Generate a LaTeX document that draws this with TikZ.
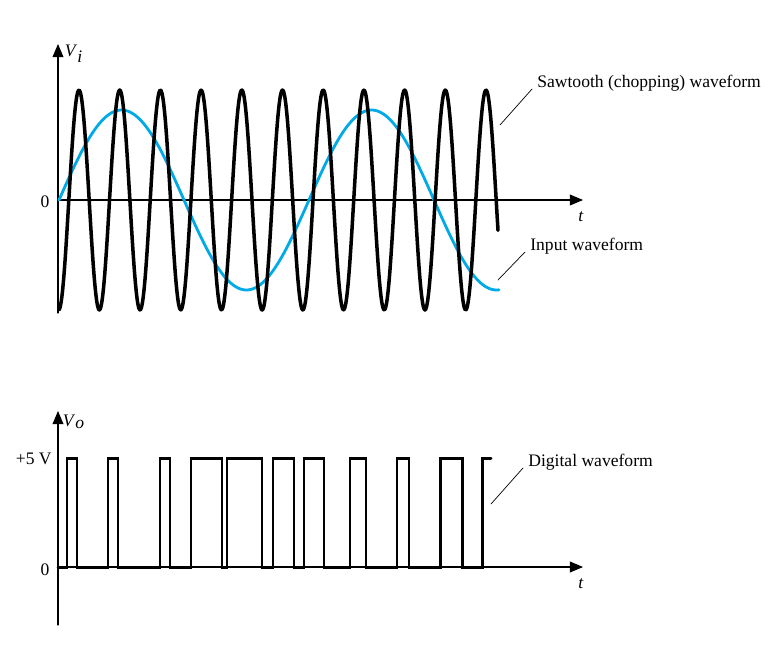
\documentclass[tikz,border=0pt]{standalone}
\usepackage{fontspec}
\setmainfont{Liberation Serif}
\usetikzlibrary{arrows}
\definecolor{inputblue}{RGB}{0,170,230}
\tikzset{
  axis/.style={black,line width=0.7pt,->},
  chop/.style={black,line width=2pt,line join=round},
  inwave/.style={inputblue,line width=1.6pt},
  digital/.style={black,line width=1.7pt,line join=miter},
  leader/.style={black,line width=0.4pt},
  lbl/.style={inner sep=0pt,font=\fontsize{10}{12}\selectfont}
}

\begin{document}
\begin{tikzpicture}[line cap=round,>=triangle 45,x=0.02cm,y=-0.02cm]
    \useasboundingbox (0,0) rectangle (777,653);

    % Axes
    \draw(58,313) coordinate (Vib) (58,44) coordinate (Vit);
    \draw(58,200) coordinate (ti0) (583,200) coordinate (tit);
    \draw(58,625) coordinate (Vob) (58,411) coordinate (Vot);
    \draw(58,567) coordinate (to0) (583,567) coordinate (tot);
    \foreach \source/\target in {Vib/Vit, ti0/tit, Vob/Vot, to0/tot} {
            \draw[axis] (\source) -- (\target);
        }

    % Waveforms
    \draw[inwave] plot[domain=59:499,samples=200,smooth] (\x,{200-90*sin(1.44*(\x-59))});
    \draw[chop] plot[domain=59:498,samples=500,smooth] (\x,{200-110*cos(8.845*(\x-79))});
    \draw[digital] (58,567) foreach \r/\f in {67/77,108/118,160/170,191/222,227/262,273/294,304/324,350/366,397/409,440/462} {
            -- (\r,567) -- (\r,458) -- (\f,458) -- (\f,567)
        } -- (482,567) -- (482,458) -- (491,458);

    % Labels
    \draw(74,54) node[lbl] (Vi) {\textit{V}$_{\textit{i}}$};
    \draw(45,202) node[lbl] (zi) {0};
    \draw(581,217) node[lbl] (ti) {\textit{t}};
    \draw(74,422) node[lbl] (Vo) {\textit{V}$_{\textit{o}}$};
    \draw(52,459) node[lbl,anchor=east] (five) {+5 V};
    \draw(45,570) node[lbl] (zo) {0};
    \draw(581,584) node[lbl] (to) {\textit{t}};

    \draw(537,83) node[lbl,anchor=west] (saw) {Sawtooth (chopping) waveform};
    \draw(530,246) node[lbl,anchor=west] (inp) {Input waveform};
    \draw(528,462) node[lbl,anchor=west] (dig) {Digital waveform};
    \draw(500,125) coordinate (sawend) (498,280) coordinate (inpend) (491,504) coordinate (digend);
    \foreach \source/\target in {saw/sawend, inp/inpend, dig/digend} {
            \draw[leader] (\source.west) ++(-5,6) -- (\target);
        }
\end{tikzpicture}
\end{document}
